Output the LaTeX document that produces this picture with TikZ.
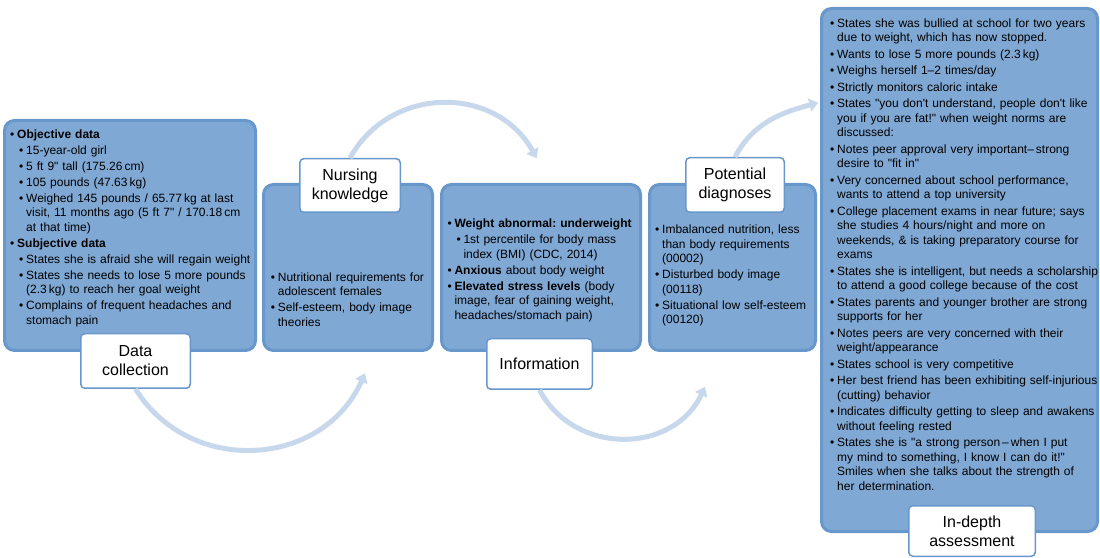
\documentclass[tikz,border=0pt]{standalone}
\usepackage{fontspec}
\setmainfont{Liberation Sans}
\newfontfamily\boxfont{Liberation Sans}
\usepackage{tikz}
\usetikzlibrary{arrows.meta}
\definecolor{boxfill}{RGB}{127,168,212}
\definecolor{boxedge}{RGB}{104,151,203}
\definecolor{arrowfill}{RGB}{200,216,236}
\tikzset{
    stage-box/.style = {draw=boxedge, fill=boxfill, line width=3pt, rectangle, rounded corners=10pt},
    stage-label/.style = {draw=boxedge, fill=white, line width=1.5pt, rectangle, rounded corners=4pt, align=center, inner sep=2pt, font=\fontsize{16}{19}\selectfont},
    stage-text/.style = {inner sep=0pt, anchor=base west, align=left, font=\boxfont\fontsize{12}{14.5}\selectfont\frenchspacing, execute at begin node={\setlength{\parskip}{#1}}},
    stage-text/.default = 1.5pt,
    cycle-arrow/.style = {draw=arrowfill, line width=5pt, looseness=1.15, -{Triangle[width=13pt,length=9pt]}},
}
\newcommand{\dotitem}[1]{\par\hangindent=7pt\hangafter=1\noindent\makebox[7pt][l]{\textbullet}#1}
\newcommand{\subdotitem}[1]{\par\hangindent=16pt\hangafter=1\noindent\hspace*{9pt}\makebox[7pt][l]{\textbullet}#1}

\begin{document}
\begin{tikzpicture}[x=1pt, y=1pt]
\useasboundingbox (0,0) rectangle (1100,557);
% boxes
\node [stage-box, minimum width=251, minimum height=230] (collect) at (130,321.5) {};
\node [stage-box, minimum width=169, minimum height=166] (knowledge) at (348,289.5) {};
\node [stage-box, minimum width=199, minimum height=166] (info) at (541,289.5) {};
\node [stage-box, minimum width=166, minimum height=166] (diagnose) at (732.5,289.5) {};
\node [stage-box, minimum width=276, minimum height=523] (assess) at (959.5,287) {};
% box texts
\node [stage-text, text width=250] (collect-text) at ([xshift=7,yshift=-3.5]collect.north west) {
    \dotitem{\textbf{Objective data}}
    \subdotitem{15-year-old girl}
    \subdotitem{5 ft 9" tall (175.26\,cm)}
    \subdotitem{105 pounds (47.63\,kg)}
    \subdotitem{Weighed 145 pounds / 65.77\,kg at last\newline visit, 11 months ago (5 ft 7" / 170.18\,cm\newline at that time)}
    \dotitem{\textbf{Subjective data}}
    \subdotitem{States she is afraid she will regain weight}
    \subdotitem{States she needs to lose 5 more pounds\newline (2.3\,kg) to reach her goal weight}
    \subdotitem{Complains of frequent headaches and\newline stomach pain}\par
};
\node [stage-text, text width=170] (knowledge-text) at ([xshift=8.7,yshift=-82.5]knowledge.north west) {
    \dotitem{Nutritional requirements for\newline adolescent females}
    \dotitem{Self-esteem, body image\newline theories}\par
};
\node [stage-text, text width=200] (info-text) at ([xshift=7.3,yshift=-29]info.north west) {
    \dotitem{\textbf{Weight abnormal: underweight}}
    \subdotitem{1st percentile for body mass\newline index (BMI) (CDC, 2014)}
    \dotitem{\textbf{Anxious} about body weight}
    \dotitem{\textbf{Elevated stress levels} (body\newline image, fear of gaining weight,\newline headaches/stomach pain)}\par
};
\node [stage-text, text width=170] (diagnose-text) at ([xshift=7,yshift=-35]diagnose.north west) {
    \dotitem{Imbalanced nutrition, less\newline than body requirements\newline (00002)}
    \dotitem{Disturbed body image\newline (00118)}
    \dotitem{Situational low self-esteem\newline (00120)}\par
};
\node [stage-text=2pt, text width=280] (assess-text) at ([xshift=10,yshift=-4]assess.north west) {
    \dotitem{States she was bullied at school for two years\newline due to weight, which has now stopped.}
    \dotitem{Wants to lose 5 more pounds (2.3\,kg)}
    \dotitem{Weighs herself 1–2 times/day}
    \dotitem{Strictly monitors caloric intake}
    \dotitem{States "you don't understand, people don't like\newline you if you are fat!" when weight norms are\newline discussed:}
    \dotitem{Notes peer approval very important–\,strong\newline desire to "fit in"}
    \dotitem{Very concerned about school performance,\newline wants to attend a top university}
    \dotitem{College placement exams in near future; says\newline she studies 4 hours/night and more on\newline weekends, \& is taking preparatory course for\newline exams}
    \dotitem{States she is intelligent, but needs a scholarship\newline to attend a good college because of the cost}
    \dotitem{States parents and younger brother are strong\newline supports for her}
    \dotitem{Notes peers are very concerned with their\newline weight/appearance}
    \dotitem{States school is very competitive}
    \dotitem{Her best friend has been exhibiting self-injurious\newline (cutting) behavior}
    \dotitem{Indicates difficulty getting to sleep and awakens\newline without feeling rested}
    \dotitem{States she is "a strong person\,–\,when I put\newline my mind to something, I know I can do it!"\newline Smiles when she talks about the strength of\newline her determination.}\par
};
% stage labels
\node [stage-label, minimum width=109.5, minimum height=54.5] (collect-label) at ([xshift=5.5,yshift=-9]collect.south) {Data\\collection};
\node [stage-label, minimum width=100.5, minimum height=53.5] (knowledge-label) at ([xshift=2,yshift=-2.5]knowledge.north) {Nursing\\knowledge};
\node [stage-label, minimum width=105.5, minimum height=50.5] (info-label) at ([xshift=-1.5,yshift=-12]info.south) {Information};
\node [stage-label, minimum width=98.5, minimum height=54.5] (diagnose-label) at ([xshift=2.5,yshift=-2]diagnose.north) {Potential\\diagnoses};
\node [stage-label, minimum width=126.5, minimum height=50.5] (assess-label) at ([xshift=12.5,yshift=2]assess.south) {In-depth\\assessment};
% arrows
\coordinate (knowledge-in) at ([xshift=17,yshift=-21.3]knowledge.south);
\coordinate (info-in) at ([xshift=-4.3,yshift=24.7]info.north);
\coordinate (diagnose-in) at ([xshift=-27.5,yshift=-34.7]diagnose.south);
\coordinate (assess-in) at ([xshift=-1.7,yshift=167.3]assess.west);
\draw [cycle-arrow] (collect-label.south) to[out=-58, in=-114] (knowledge-in);
\draw [cycle-arrow] (knowledge-label.north) to[out=61, in=119] (info-in);
\draw [cycle-arrow] (info-label.south) to[out=-62, in=-115] (diagnose-in);
\draw [cycle-arrow, looseness=1] (diagnose-label.north) to[out=62, in=195] (assess-in);
\end{tikzpicture}
\end{document}
